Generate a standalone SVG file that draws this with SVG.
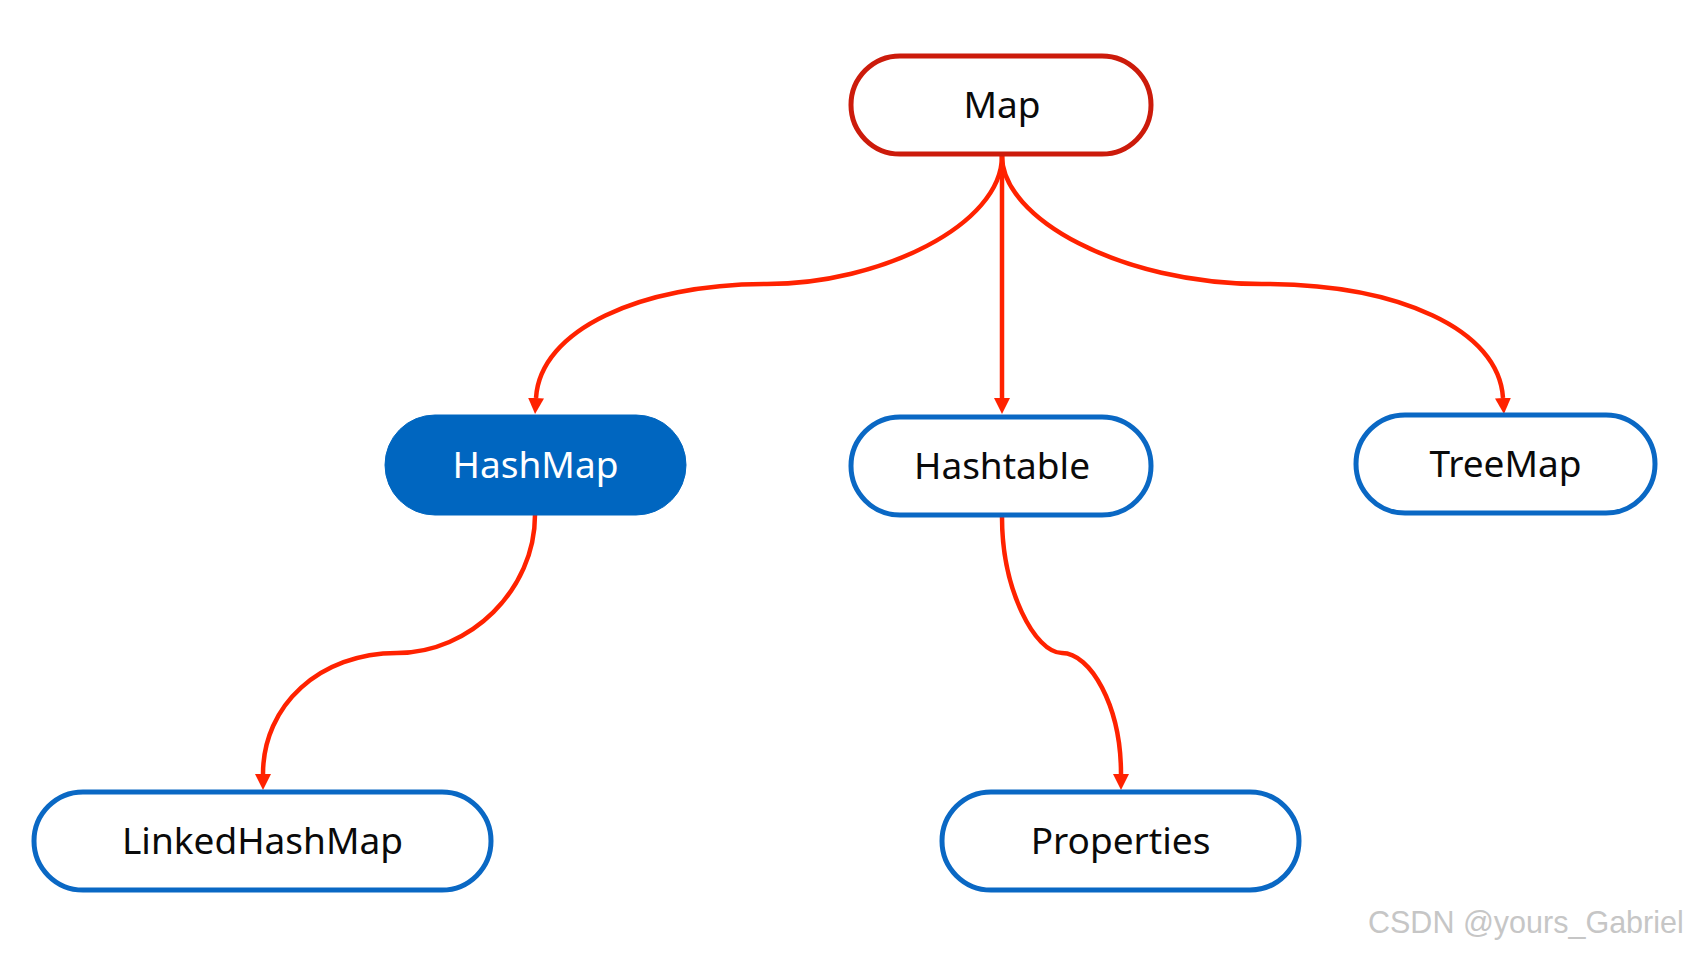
<svg xmlns="http://www.w3.org/2000/svg" width="1689" height="953" viewBox="0 0 1689 953">
  <defs>
    <marker id="arrow" markerUnits="userSpaceOnUse" markerWidth="18" markerHeight="16" refX="0" refY="8" orient="auto" viewBox="0 0 18 16">
      <path d="M0,0 L16,8 L0,16 Z" fill="#ff2200"/>
    </marker>
    <style>
      .edge { fill: none; stroke: #ff2200; stroke-width: 4.5; marker-end: url(#arrow); }
      .node { fill: #ffffff; stroke: #0a68c4; stroke-width: 5; }
      .root { fill: #ffffff; stroke: #cc1b0b; stroke-width: 5; }
      .filled { fill: #0066c0; stroke: #0066c0; stroke-width: 1; }
      .label { font-family: "Noto Sans", "Open Sans", "DejaVu Sans", sans-serif; font-size: 37px; fill: #0a0a0a; text-anchor: middle; }
      .label-w { fill: #ffffff; }
      .wm { font-family: "Liberation Sans", Arial, sans-serif; font-size: 30.5px; fill: #c6c6c6; }
    </style>
  </defs>
  <rect width="1689" height="953" fill="#ffffff"/>

  <g id="connectors">
    <path class="edge" d="M1002,156 C1002,225 880,284 767,284 C640,284 540,330 536,398"/>
    <path class="edge" d="M1002,156 L1002,398"/>
    <path class="edge" d="M1002,156 C1002,218 1120,284 1262,284 C1400,284 1499,330 1503,398"/>
    <path class="edge" d="M535,515 C535,590 470,653 397,653 C320,653 263,705 263,774"/>
    <path class="edge" d="M1002,517 C1002,590 1035,653 1062,653 C1090,653 1121,705 1121,774"/>
  </g>

  <g id="node-map">
    <rect class="root" x="851" y="56" width="300" height="98" rx="49" ry="49"/>
    <text class="label" x="1002" y="118">Map</text>
  </g>
  <g id="node-hashmap">
    <rect class="filled" x="385" y="415" width="301" height="100" rx="50" ry="50"/>
    <text class="label label-w" x="535.5" y="478">HashMap</text>
  </g>
  <g id="node-hashtable">
    <rect class="node" x="851" y="417" width="300" height="98" rx="49" ry="49"/>
    <text class="label" x="1002" y="479">Hashtable</text>
  </g>
  <g id="node-treemap">
    <rect class="node" x="1356" y="415" width="299" height="98" rx="49" ry="49"/>
    <text class="label" x="1505.5" y="477">TreeMap</text>
  </g>
  <g id="node-linkedhashmap">
    <rect class="node" x="34" y="792" width="457" height="98" rx="49" ry="49"/>
    <text class="label" x="262.5" y="854">LinkedHashMap</text>
  </g>
  <g id="node-properties">
    <rect class="node" x="942" y="792" width="357" height="98" rx="49" ry="49"/>
    <text class="label" x="1120.5" y="854">Properties</text>
  </g>

  <text class="wm" x="1368" y="933">CSDN @yours_Gabriel</text>
</svg>
